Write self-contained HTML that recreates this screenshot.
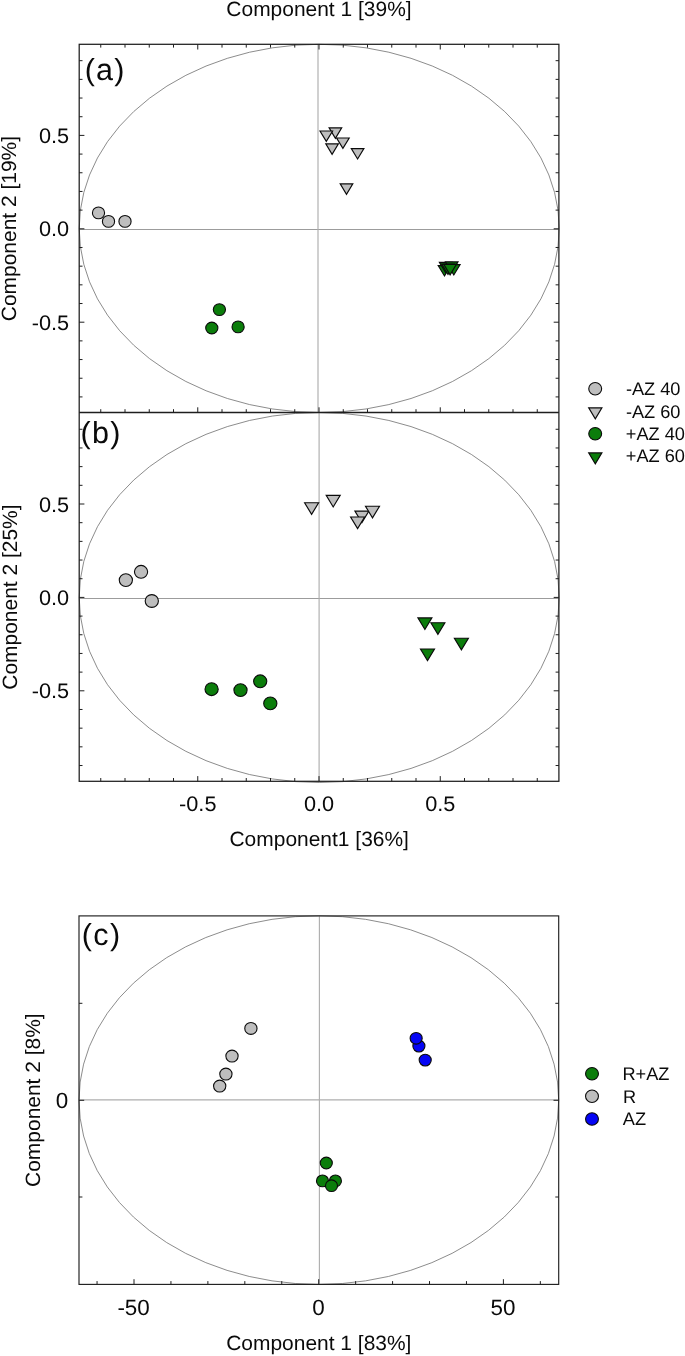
<!DOCTYPE html>
<html lang="en"><head><meta charset="utf-8"><title>PCA score plots</title>
<style>html,body{margin:0;padding:0;background:#fff}svg{display:block;will-change:transform}text{font-family:"Liberation Sans",Arial,Helvetica,sans-serif;fill:#0a0a0a;text-rendering:geometricPrecision}</style></head><body>
<svg width="685" height="1356" viewBox="0 0 685 1356">
<rect width="685" height="1356" fill="#fff"/>
<g id="panel-a">
<ellipse cx="319.2" cy="228.4" rx="240" ry="184.1" fill="none" stroke="#666666" stroke-width="0.75"/>
<line x1="79.20" y1="229.50" x2="558.90" y2="229.50" stroke="#9c9c9c" stroke-width="1.0"/>
<line x1="318.00" y1="44.30" x2="318.00" y2="412.50" stroke="#aeaeae" stroke-width="1.15"/>
</g><g id="panel-b">
<ellipse cx="319.2" cy="597.5" rx="240" ry="185" fill="none" stroke="#666666" stroke-width="0.75"/>
<line x1="79.20" y1="598.50" x2="558.90" y2="598.50" stroke="#9c9c9c" stroke-width="1.0"/>
<line x1="319.10" y1="412.50" x2="319.10" y2="781.30" stroke="#aeaeae" stroke-width="1.15"/>
</g>
<g id="ticks-ab">
<line x1="100.75" y1="44.30" x2="100.75" y2="47.60" stroke="#1e1e1e" stroke-width="1.0"/>
<line x1="125.00" y1="44.30" x2="125.00" y2="47.60" stroke="#1e1e1e" stroke-width="1.0"/>
<line x1="149.25" y1="44.30" x2="149.25" y2="47.60" stroke="#1e1e1e" stroke-width="1.0"/>
<line x1="173.50" y1="44.30" x2="173.50" y2="47.60" stroke="#1e1e1e" stroke-width="1.0"/>
<line x1="197.75" y1="44.30" x2="197.75" y2="49.50" stroke="#1e1e1e" stroke-width="1.0"/>
<line x1="222.00" y1="44.30" x2="222.00" y2="47.60" stroke="#1e1e1e" stroke-width="1.0"/>
<line x1="246.25" y1="44.30" x2="246.25" y2="47.60" stroke="#1e1e1e" stroke-width="1.0"/>
<line x1="270.50" y1="44.30" x2="270.50" y2="47.60" stroke="#1e1e1e" stroke-width="1.0"/>
<line x1="294.75" y1="44.30" x2="294.75" y2="47.60" stroke="#1e1e1e" stroke-width="1.0"/>
<line x1="319.00" y1="44.30" x2="319.00" y2="49.50" stroke="#1e1e1e" stroke-width="1.0"/>
<line x1="343.25" y1="44.30" x2="343.25" y2="47.60" stroke="#1e1e1e" stroke-width="1.0"/>
<line x1="367.50" y1="44.30" x2="367.50" y2="47.60" stroke="#1e1e1e" stroke-width="1.0"/>
<line x1="391.75" y1="44.30" x2="391.75" y2="47.60" stroke="#1e1e1e" stroke-width="1.0"/>
<line x1="416.00" y1="44.30" x2="416.00" y2="47.60" stroke="#1e1e1e" stroke-width="1.0"/>
<line x1="440.25" y1="44.30" x2="440.25" y2="49.50" stroke="#1e1e1e" stroke-width="1.0"/>
<line x1="464.50" y1="44.30" x2="464.50" y2="47.60" stroke="#1e1e1e" stroke-width="1.0"/>
<line x1="488.75" y1="44.30" x2="488.75" y2="47.60" stroke="#1e1e1e" stroke-width="1.0"/>
<line x1="513.00" y1="44.30" x2="513.00" y2="47.60" stroke="#1e1e1e" stroke-width="1.0"/>
<line x1="537.25" y1="44.30" x2="537.25" y2="47.60" stroke="#1e1e1e" stroke-width="1.0"/>
<line x1="100.75" y1="412.50" x2="100.75" y2="409.20" stroke="#1e1e1e" stroke-width="1.0"/>
<line x1="125.00" y1="412.50" x2="125.00" y2="409.20" stroke="#1e1e1e" stroke-width="1.0"/>
<line x1="149.25" y1="412.50" x2="149.25" y2="409.20" stroke="#1e1e1e" stroke-width="1.0"/>
<line x1="173.50" y1="412.50" x2="173.50" y2="409.20" stroke="#1e1e1e" stroke-width="1.0"/>
<line x1="197.75" y1="412.50" x2="197.75" y2="407.30" stroke="#1e1e1e" stroke-width="1.0"/>
<line x1="222.00" y1="412.50" x2="222.00" y2="409.20" stroke="#1e1e1e" stroke-width="1.0"/>
<line x1="246.25" y1="412.50" x2="246.25" y2="409.20" stroke="#1e1e1e" stroke-width="1.0"/>
<line x1="270.50" y1="412.50" x2="270.50" y2="409.20" stroke="#1e1e1e" stroke-width="1.0"/>
<line x1="294.75" y1="412.50" x2="294.75" y2="409.20" stroke="#1e1e1e" stroke-width="1.0"/>
<line x1="319.00" y1="412.50" x2="319.00" y2="407.30" stroke="#1e1e1e" stroke-width="1.0"/>
<line x1="343.25" y1="412.50" x2="343.25" y2="409.20" stroke="#1e1e1e" stroke-width="1.0"/>
<line x1="367.50" y1="412.50" x2="367.50" y2="409.20" stroke="#1e1e1e" stroke-width="1.0"/>
<line x1="391.75" y1="412.50" x2="391.75" y2="409.20" stroke="#1e1e1e" stroke-width="1.0"/>
<line x1="416.00" y1="412.50" x2="416.00" y2="409.20" stroke="#1e1e1e" stroke-width="1.0"/>
<line x1="440.25" y1="412.50" x2="440.25" y2="407.30" stroke="#1e1e1e" stroke-width="1.0"/>
<line x1="464.50" y1="412.50" x2="464.50" y2="409.20" stroke="#1e1e1e" stroke-width="1.0"/>
<line x1="488.75" y1="412.50" x2="488.75" y2="409.20" stroke="#1e1e1e" stroke-width="1.0"/>
<line x1="513.00" y1="412.50" x2="513.00" y2="409.20" stroke="#1e1e1e" stroke-width="1.0"/>
<line x1="537.25" y1="412.50" x2="537.25" y2="409.20" stroke="#1e1e1e" stroke-width="1.0"/>
<line x1="79.20" y1="60.68" x2="82.50" y2="60.68" stroke="#1e1e1e" stroke-width="1.0"/>
<line x1="79.20" y1="79.36" x2="82.50" y2="79.36" stroke="#1e1e1e" stroke-width="1.0"/>
<line x1="79.20" y1="98.04" x2="82.50" y2="98.04" stroke="#1e1e1e" stroke-width="1.0"/>
<line x1="79.20" y1="116.72" x2="82.50" y2="116.72" stroke="#1e1e1e" stroke-width="1.0"/>
<line x1="79.20" y1="135.40" x2="84.40" y2="135.40" stroke="#1e1e1e" stroke-width="1.0"/>
<line x1="79.20" y1="154.08" x2="82.50" y2="154.08" stroke="#1e1e1e" stroke-width="1.0"/>
<line x1="79.20" y1="172.76" x2="82.50" y2="172.76" stroke="#1e1e1e" stroke-width="1.0"/>
<line x1="79.20" y1="191.44" x2="82.50" y2="191.44" stroke="#1e1e1e" stroke-width="1.0"/>
<line x1="79.20" y1="210.12" x2="82.50" y2="210.12" stroke="#1e1e1e" stroke-width="1.0"/>
<line x1="79.20" y1="228.80" x2="84.40" y2="228.80" stroke="#1e1e1e" stroke-width="1.0"/>
<line x1="79.20" y1="247.48" x2="82.50" y2="247.48" stroke="#1e1e1e" stroke-width="1.0"/>
<line x1="79.20" y1="266.16" x2="82.50" y2="266.16" stroke="#1e1e1e" stroke-width="1.0"/>
<line x1="79.20" y1="284.84" x2="82.50" y2="284.84" stroke="#1e1e1e" stroke-width="1.0"/>
<line x1="79.20" y1="303.52" x2="82.50" y2="303.52" stroke="#1e1e1e" stroke-width="1.0"/>
<line x1="79.20" y1="322.20" x2="84.40" y2="322.20" stroke="#1e1e1e" stroke-width="1.0"/>
<line x1="79.20" y1="340.88" x2="82.50" y2="340.88" stroke="#1e1e1e" stroke-width="1.0"/>
<line x1="79.20" y1="359.56" x2="82.50" y2="359.56" stroke="#1e1e1e" stroke-width="1.0"/>
<line x1="79.20" y1="378.24" x2="82.50" y2="378.24" stroke="#1e1e1e" stroke-width="1.0"/>
<line x1="79.20" y1="396.92" x2="82.50" y2="396.92" stroke="#1e1e1e" stroke-width="1.0"/>
<line x1="558.90" y1="60.68" x2="555.60" y2="60.68" stroke="#1e1e1e" stroke-width="1.0"/>
<line x1="558.90" y1="79.36" x2="555.60" y2="79.36" stroke="#1e1e1e" stroke-width="1.0"/>
<line x1="558.90" y1="98.04" x2="555.60" y2="98.04" stroke="#1e1e1e" stroke-width="1.0"/>
<line x1="558.90" y1="116.72" x2="555.60" y2="116.72" stroke="#1e1e1e" stroke-width="1.0"/>
<line x1="558.90" y1="135.40" x2="553.70" y2="135.40" stroke="#1e1e1e" stroke-width="1.0"/>
<line x1="558.90" y1="154.08" x2="555.60" y2="154.08" stroke="#1e1e1e" stroke-width="1.0"/>
<line x1="558.90" y1="172.76" x2="555.60" y2="172.76" stroke="#1e1e1e" stroke-width="1.0"/>
<line x1="558.90" y1="191.44" x2="555.60" y2="191.44" stroke="#1e1e1e" stroke-width="1.0"/>
<line x1="558.90" y1="210.12" x2="555.60" y2="210.12" stroke="#1e1e1e" stroke-width="1.0"/>
<line x1="558.90" y1="228.80" x2="553.70" y2="228.80" stroke="#1e1e1e" stroke-width="1.0"/>
<line x1="558.90" y1="247.48" x2="555.60" y2="247.48" stroke="#1e1e1e" stroke-width="1.0"/>
<line x1="558.90" y1="266.16" x2="555.60" y2="266.16" stroke="#1e1e1e" stroke-width="1.0"/>
<line x1="558.90" y1="284.84" x2="555.60" y2="284.84" stroke="#1e1e1e" stroke-width="1.0"/>
<line x1="558.90" y1="303.52" x2="555.60" y2="303.52" stroke="#1e1e1e" stroke-width="1.0"/>
<line x1="558.90" y1="322.20" x2="553.70" y2="322.20" stroke="#1e1e1e" stroke-width="1.0"/>
<line x1="558.90" y1="340.88" x2="555.60" y2="340.88" stroke="#1e1e1e" stroke-width="1.0"/>
<line x1="558.90" y1="359.56" x2="555.60" y2="359.56" stroke="#1e1e1e" stroke-width="1.0"/>
<line x1="558.90" y1="378.24" x2="555.60" y2="378.24" stroke="#1e1e1e" stroke-width="1.0"/>
<line x1="558.90" y1="396.92" x2="555.60" y2="396.92" stroke="#1e1e1e" stroke-width="1.0"/>
<line x1="100.75" y1="781.30" x2="100.75" y2="778.00" stroke="#1e1e1e" stroke-width="1.0"/>
<line x1="125.00" y1="781.30" x2="125.00" y2="778.00" stroke="#1e1e1e" stroke-width="1.0"/>
<line x1="149.25" y1="781.30" x2="149.25" y2="778.00" stroke="#1e1e1e" stroke-width="1.0"/>
<line x1="173.50" y1="781.30" x2="173.50" y2="778.00" stroke="#1e1e1e" stroke-width="1.0"/>
<line x1="197.75" y1="781.30" x2="197.75" y2="776.10" stroke="#1e1e1e" stroke-width="1.0"/>
<line x1="222.00" y1="781.30" x2="222.00" y2="778.00" stroke="#1e1e1e" stroke-width="1.0"/>
<line x1="246.25" y1="781.30" x2="246.25" y2="778.00" stroke="#1e1e1e" stroke-width="1.0"/>
<line x1="270.50" y1="781.30" x2="270.50" y2="778.00" stroke="#1e1e1e" stroke-width="1.0"/>
<line x1="294.75" y1="781.30" x2="294.75" y2="778.00" stroke="#1e1e1e" stroke-width="1.0"/>
<line x1="319.00" y1="781.30" x2="319.00" y2="776.10" stroke="#1e1e1e" stroke-width="1.0"/>
<line x1="343.25" y1="781.30" x2="343.25" y2="778.00" stroke="#1e1e1e" stroke-width="1.0"/>
<line x1="367.50" y1="781.30" x2="367.50" y2="778.00" stroke="#1e1e1e" stroke-width="1.0"/>
<line x1="391.75" y1="781.30" x2="391.75" y2="778.00" stroke="#1e1e1e" stroke-width="1.0"/>
<line x1="416.00" y1="781.30" x2="416.00" y2="778.00" stroke="#1e1e1e" stroke-width="1.0"/>
<line x1="440.25" y1="781.30" x2="440.25" y2="776.10" stroke="#1e1e1e" stroke-width="1.0"/>
<line x1="464.50" y1="781.30" x2="464.50" y2="778.00" stroke="#1e1e1e" stroke-width="1.0"/>
<line x1="488.75" y1="781.30" x2="488.75" y2="778.00" stroke="#1e1e1e" stroke-width="1.0"/>
<line x1="513.00" y1="781.30" x2="513.00" y2="778.00" stroke="#1e1e1e" stroke-width="1.0"/>
<line x1="537.25" y1="781.30" x2="537.25" y2="778.00" stroke="#1e1e1e" stroke-width="1.0"/>
<line x1="79.20" y1="429.28" x2="82.50" y2="429.28" stroke="#1e1e1e" stroke-width="1.0"/>
<line x1="79.20" y1="447.96" x2="82.50" y2="447.96" stroke="#1e1e1e" stroke-width="1.0"/>
<line x1="79.20" y1="466.64" x2="82.50" y2="466.64" stroke="#1e1e1e" stroke-width="1.0"/>
<line x1="79.20" y1="485.32" x2="82.50" y2="485.32" stroke="#1e1e1e" stroke-width="1.0"/>
<line x1="79.20" y1="504.00" x2="84.40" y2="504.00" stroke="#1e1e1e" stroke-width="1.0"/>
<line x1="79.20" y1="522.68" x2="82.50" y2="522.68" stroke="#1e1e1e" stroke-width="1.0"/>
<line x1="79.20" y1="541.36" x2="82.50" y2="541.36" stroke="#1e1e1e" stroke-width="1.0"/>
<line x1="79.20" y1="560.04" x2="82.50" y2="560.04" stroke="#1e1e1e" stroke-width="1.0"/>
<line x1="79.20" y1="578.72" x2="82.50" y2="578.72" stroke="#1e1e1e" stroke-width="1.0"/>
<line x1="79.20" y1="597.40" x2="84.40" y2="597.40" stroke="#1e1e1e" stroke-width="1.0"/>
<line x1="79.20" y1="616.08" x2="82.50" y2="616.08" stroke="#1e1e1e" stroke-width="1.0"/>
<line x1="79.20" y1="634.76" x2="82.50" y2="634.76" stroke="#1e1e1e" stroke-width="1.0"/>
<line x1="79.20" y1="653.44" x2="82.50" y2="653.44" stroke="#1e1e1e" stroke-width="1.0"/>
<line x1="79.20" y1="672.12" x2="82.50" y2="672.12" stroke="#1e1e1e" stroke-width="1.0"/>
<line x1="79.20" y1="690.80" x2="84.40" y2="690.80" stroke="#1e1e1e" stroke-width="1.0"/>
<line x1="79.20" y1="709.48" x2="82.50" y2="709.48" stroke="#1e1e1e" stroke-width="1.0"/>
<line x1="79.20" y1="728.16" x2="82.50" y2="728.16" stroke="#1e1e1e" stroke-width="1.0"/>
<line x1="79.20" y1="746.84" x2="82.50" y2="746.84" stroke="#1e1e1e" stroke-width="1.0"/>
<line x1="79.20" y1="765.52" x2="82.50" y2="765.52" stroke="#1e1e1e" stroke-width="1.0"/>
<line x1="558.90" y1="429.28" x2="555.60" y2="429.28" stroke="#1e1e1e" stroke-width="1.0"/>
<line x1="558.90" y1="447.96" x2="555.60" y2="447.96" stroke="#1e1e1e" stroke-width="1.0"/>
<line x1="558.90" y1="466.64" x2="555.60" y2="466.64" stroke="#1e1e1e" stroke-width="1.0"/>
<line x1="558.90" y1="485.32" x2="555.60" y2="485.32" stroke="#1e1e1e" stroke-width="1.0"/>
<line x1="558.90" y1="504.00" x2="553.70" y2="504.00" stroke="#1e1e1e" stroke-width="1.0"/>
<line x1="558.90" y1="522.68" x2="555.60" y2="522.68" stroke="#1e1e1e" stroke-width="1.0"/>
<line x1="558.90" y1="541.36" x2="555.60" y2="541.36" stroke="#1e1e1e" stroke-width="1.0"/>
<line x1="558.90" y1="560.04" x2="555.60" y2="560.04" stroke="#1e1e1e" stroke-width="1.0"/>
<line x1="558.90" y1="578.72" x2="555.60" y2="578.72" stroke="#1e1e1e" stroke-width="1.0"/>
<line x1="558.90" y1="597.40" x2="553.70" y2="597.40" stroke="#1e1e1e" stroke-width="1.0"/>
<line x1="558.90" y1="616.08" x2="555.60" y2="616.08" stroke="#1e1e1e" stroke-width="1.0"/>
<line x1="558.90" y1="634.76" x2="555.60" y2="634.76" stroke="#1e1e1e" stroke-width="1.0"/>
<line x1="558.90" y1="653.44" x2="555.60" y2="653.44" stroke="#1e1e1e" stroke-width="1.0"/>
<line x1="558.90" y1="672.12" x2="555.60" y2="672.12" stroke="#1e1e1e" stroke-width="1.0"/>
<line x1="558.90" y1="690.80" x2="553.70" y2="690.80" stroke="#1e1e1e" stroke-width="1.0"/>
<line x1="558.90" y1="709.48" x2="555.60" y2="709.48" stroke="#1e1e1e" stroke-width="1.0"/>
<line x1="558.90" y1="728.16" x2="555.60" y2="728.16" stroke="#1e1e1e" stroke-width="1.0"/>
<line x1="558.90" y1="746.84" x2="555.60" y2="746.84" stroke="#1e1e1e" stroke-width="1.0"/>
<line x1="558.90" y1="765.52" x2="555.60" y2="765.52" stroke="#1e1e1e" stroke-width="1.0"/>
</g>
<rect x="79.2" y="44.3" width="479.7" height="737.0" fill="none" stroke="#1e1e1e" stroke-width="1.25"/>
<line x1="79.20" y1="412.50" x2="558.90" y2="412.50" stroke="#1e1e1e" stroke-width="1.5"/>
<g id="pts-a">
<ellipse cx="98.50" cy="212.90" rx="6.09" ry="5.91" fill="#bebebe" stroke="#0a0a0a" stroke-width="1.1"/>
<ellipse cx="108.50" cy="221.40" rx="6.09" ry="5.91" fill="#bebebe" stroke="#0a0a0a" stroke-width="1.1"/>
<ellipse cx="125.00" cy="221.40" rx="6.09" ry="5.91" fill="#bebebe" stroke="#0a0a0a" stroke-width="1.1"/>
<ellipse cx="219.40" cy="309.60" rx="6.09" ry="5.91" fill="#0b7d0b" stroke="#0a0a0a" stroke-width="1.1"/>
<ellipse cx="211.80" cy="328.00" rx="6.09" ry="5.91" fill="#0b7d0b" stroke="#0a0a0a" stroke-width="1.1"/>
<ellipse cx="238.10" cy="326.90" rx="6.09" ry="5.91" fill="#0b7d0b" stroke="#0a0a0a" stroke-width="1.1"/>
<polygon points="329.10,127.88 341.70,127.88 335.40,138.30" fill="#bebebe" stroke="#0a0a0a" stroke-width="1.15" stroke-linejoin="miter"/>
<polygon points="320.00,130.97 332.60,130.97 326.30,141.40" fill="#bebebe" stroke="#0a0a0a" stroke-width="1.15" stroke-linejoin="miter"/>
<polygon points="325.80,143.88 338.40,143.88 332.10,154.30" fill="#bebebe" stroke="#0a0a0a" stroke-width="1.15" stroke-linejoin="miter"/>
<polygon points="336.60,137.97 349.20,137.97 342.90,148.40" fill="#bebebe" stroke="#0a0a0a" stroke-width="1.15" stroke-linejoin="miter"/>
<polygon points="351.30,148.57 363.90,148.57 357.60,159.00" fill="#bebebe" stroke="#0a0a0a" stroke-width="1.15" stroke-linejoin="miter"/>
<polygon points="340.20,183.88 352.80,183.88 346.50,194.30" fill="#bebebe" stroke="#0a0a0a" stroke-width="1.15" stroke-linejoin="miter"/>
<polygon points="438.20,265.57 450.80,265.57 444.50,276.00" fill="#0b7d0b" stroke="#0a0a0a" stroke-width="1.15" stroke-linejoin="miter"/>
<polygon points="439.40,262.38 452.00,262.38 445.70,272.80" fill="#0b7d0b" stroke="#0a0a0a" stroke-width="1.15" stroke-linejoin="miter"/>
<polygon points="445.40,261.88 458.00,261.88 451.70,272.30" fill="#0b7d0b" stroke="#0a0a0a" stroke-width="1.15" stroke-linejoin="miter"/>
<polygon points="447.50,264.57 460.10,264.57 453.80,275.00" fill="#0b7d0b" stroke="#0a0a0a" stroke-width="1.15" stroke-linejoin="miter"/>
<polygon points="441.70,264.07 454.30,264.07 448.00,274.50" fill="#0b7d0b" stroke="#0a0a0a" stroke-width="1.15" stroke-linejoin="miter"/>
<polygon points="443.80,264.38 456.40,264.38 450.10,274.80" fill="#0b7d0b" stroke="#0a0a0a" stroke-width="1.15" stroke-linejoin="miter"/>
</g><g id="pts-b">
<ellipse cx="125.85" cy="580.10" rx="6.60" ry="6.40" fill="#bebebe" stroke="#0a0a0a" stroke-width="1.1"/>
<ellipse cx="141.05" cy="571.80" rx="6.60" ry="6.40" fill="#bebebe" stroke="#0a0a0a" stroke-width="1.1"/>
<ellipse cx="151.80" cy="601.00" rx="6.60" ry="6.40" fill="#bebebe" stroke="#0a0a0a" stroke-width="1.1"/>
<ellipse cx="211.60" cy="689.20" rx="6.60" ry="6.40" fill="#0b7d0b" stroke="#0a0a0a" stroke-width="1.1"/>
<ellipse cx="240.50" cy="690.10" rx="6.60" ry="6.40" fill="#0b7d0b" stroke="#0a0a0a" stroke-width="1.1"/>
<ellipse cx="260.20" cy="681.30" rx="6.60" ry="6.40" fill="#0b7d0b" stroke="#0a0a0a" stroke-width="1.1"/>
<ellipse cx="270.30" cy="703.40" rx="6.60" ry="6.40" fill="#0b7d0b" stroke="#0a0a0a" stroke-width="1.1"/>
<polygon points="304.60,502.77 318.60,502.77 311.60,514.35" fill="#bebebe" stroke="#0a0a0a" stroke-width="1.15" stroke-linejoin="miter"/>
<polygon points="326.20,495.38 340.20,495.38 333.20,506.95" fill="#bebebe" stroke="#0a0a0a" stroke-width="1.15" stroke-linejoin="miter"/>
<polygon points="354.90,511.07 368.90,511.07 361.90,522.65" fill="#bebebe" stroke="#0a0a0a" stroke-width="1.15" stroke-linejoin="miter"/>
<polygon points="350.60,516.98 364.60,516.98 357.60,528.55" fill="#bebebe" stroke="#0a0a0a" stroke-width="1.15" stroke-linejoin="miter"/>
<polygon points="365.50,506.27 379.50,506.27 372.50,517.85" fill="#bebebe" stroke="#0a0a0a" stroke-width="1.15" stroke-linejoin="miter"/>
<polygon points="417.90,617.88 431.90,617.88 424.90,629.45" fill="#0b7d0b" stroke="#0a0a0a" stroke-width="1.15" stroke-linejoin="miter"/>
<polygon points="430.90,622.78 444.90,622.78 437.90,634.35" fill="#0b7d0b" stroke="#0a0a0a" stroke-width="1.15" stroke-linejoin="miter"/>
<polygon points="454.40,638.28 468.40,638.28 461.40,649.85" fill="#0b7d0b" stroke="#0a0a0a" stroke-width="1.15" stroke-linejoin="miter"/>
<polygon points="420.50,648.98 434.50,648.98 427.50,660.55" fill="#0b7d0b" stroke="#0a0a0a" stroke-width="1.15" stroke-linejoin="miter"/>
</g>
<g id="labels-ab">
</g>
<g id="legend-ab">
<ellipse cx="595.20" cy="388.80" rx="6.45" ry="6.25" fill="#bebebe" stroke="#0a0a0a" stroke-width="1.1"/>
<polygon points="588.70,407.88 601.90,407.88 595.30,418.79" fill="#bebebe" stroke="#0a0a0a" stroke-width="1.15" stroke-linejoin="miter"/>
<ellipse cx="595.20" cy="433.80" rx="6.45" ry="6.25" fill="#0b7d0b" stroke="#0a0a0a" stroke-width="1.1"/>
<polygon points="588.70,452.88 601.90,452.88 595.30,463.79" fill="#0b7d0b" stroke="#0a0a0a" stroke-width="1.15" stroke-linejoin="miter"/>
</g>
<g id="panel-c">
<ellipse cx="318.85" cy="1100.1" rx="239.85" ry="184.3" fill="none" stroke="#666666" stroke-width="0.75"/>
<line x1="79.00" y1="1099.90" x2="558.70" y2="1099.90" stroke="#aeaeae" stroke-width="1.15"/>
<line x1="319.40" y1="915.90" x2="319.40" y2="1284.40" stroke="#aeaeae" stroke-width="1.15"/>
<line x1="97.06" y1="1284.40" x2="97.06" y2="1281.10" stroke="#1e1e1e" stroke-width="1.0"/>
<line x1="134.00" y1="1284.40" x2="134.00" y2="1279.20" stroke="#1e1e1e" stroke-width="1.0"/>
<line x1="170.94" y1="1284.40" x2="170.94" y2="1281.10" stroke="#1e1e1e" stroke-width="1.0"/>
<line x1="207.88" y1="1284.40" x2="207.88" y2="1281.10" stroke="#1e1e1e" stroke-width="1.0"/>
<line x1="244.82" y1="1284.40" x2="244.82" y2="1281.10" stroke="#1e1e1e" stroke-width="1.0"/>
<line x1="281.76" y1="1284.40" x2="281.76" y2="1281.10" stroke="#1e1e1e" stroke-width="1.0"/>
<line x1="318.70" y1="1284.40" x2="318.70" y2="1279.20" stroke="#1e1e1e" stroke-width="1.0"/>
<line x1="355.64" y1="1284.40" x2="355.64" y2="1281.10" stroke="#1e1e1e" stroke-width="1.0"/>
<line x1="392.58" y1="1284.40" x2="392.58" y2="1281.10" stroke="#1e1e1e" stroke-width="1.0"/>
<line x1="429.52" y1="1284.40" x2="429.52" y2="1281.10" stroke="#1e1e1e" stroke-width="1.0"/>
<line x1="466.46" y1="1284.40" x2="466.46" y2="1281.10" stroke="#1e1e1e" stroke-width="1.0"/>
<line x1="503.40" y1="1284.40" x2="503.40" y2="1279.20" stroke="#1e1e1e" stroke-width="1.0"/>
<line x1="540.34" y1="1284.40" x2="540.34" y2="1281.10" stroke="#1e1e1e" stroke-width="1.0"/>
<line x1="79.00" y1="1003.30" x2="82.40" y2="1003.30" stroke="#1e1e1e" stroke-width="1.0"/>
<line x1="558.70" y1="1003.30" x2="555.30" y2="1003.30" stroke="#1e1e1e" stroke-width="1.0"/>
<line x1="79.00" y1="1100.30" x2="84.20" y2="1100.30" stroke="#1e1e1e" stroke-width="1.0"/>
<line x1="558.70" y1="1100.30" x2="553.50" y2="1100.30" stroke="#1e1e1e" stroke-width="1.0"/>
<line x1="79.00" y1="1197.00" x2="82.40" y2="1197.00" stroke="#1e1e1e" stroke-width="1.0"/>
<line x1="558.70" y1="1197.00" x2="555.30" y2="1197.00" stroke="#1e1e1e" stroke-width="1.0"/>
<rect x="79.0" y="915.9" width="479.70000000000005" height="368.5000000000001" fill="none" stroke="#1e1e1e" stroke-width="1.15"/>
<ellipse cx="250.90" cy="1028.40" rx="6.14" ry="5.96" fill="#bebebe" stroke="#0a0a0a" stroke-width="1.1"/>
<ellipse cx="232.00" cy="1056.10" rx="6.14" ry="5.96" fill="#bebebe" stroke="#0a0a0a" stroke-width="1.1"/>
<ellipse cx="219.70" cy="1086.10" rx="6.14" ry="5.96" fill="#bebebe" stroke="#0a0a0a" stroke-width="1.1"/>
<ellipse cx="225.90" cy="1074.10" rx="6.14" ry="5.96" fill="#bebebe" stroke="#0a0a0a" stroke-width="1.1"/>
<ellipse cx="326.30" cy="1163.00" rx="6.04" ry="5.86" fill="#0b7d0b" stroke="#0a0a0a" stroke-width="1.1"/>
<ellipse cx="335.40" cy="1180.90" rx="6.04" ry="5.86" fill="#0b7d0b" stroke="#0a0a0a" stroke-width="1.1"/>
<ellipse cx="322.50" cy="1180.90" rx="6.04" ry="5.86" fill="#0b7d0b" stroke="#0a0a0a" stroke-width="1.1"/>
<ellipse cx="331.50" cy="1185.70" rx="6.04" ry="5.86" fill="#0b7d0b" stroke="#0a0a0a" stroke-width="1.1"/>
<ellipse cx="418.90" cy="1046.10" rx="6.04" ry="5.86" fill="#0505f5" stroke="#0a0a0a" stroke-width="1.1"/>
<ellipse cx="416.15" cy="1038.30" rx="6.04" ry="5.86" fill="#0505f5" stroke="#0a0a0a" stroke-width="1.1"/>
<ellipse cx="425.20" cy="1060.10" rx="6.04" ry="5.86" fill="#0505f5" stroke="#0a0a0a" stroke-width="1.1"/>
<ellipse cx="592.00" cy="1073.80" rx="6.45" ry="6.25" fill="#0b7d0b" stroke="#0a0a0a" stroke-width="1.1"/>
<ellipse cx="592.00" cy="1096.30" rx="6.45" ry="6.25" fill="#bebebe" stroke="#0a0a0a" stroke-width="1.1"/>
<ellipse cx="592.00" cy="1119.00" rx="6.45" ry="6.25" fill="#0505f5" stroke="#0a0a0a" stroke-width="1.1"/>
</g>
<g id="text">
<text transform="translate(226.35,15.6) scale(1.013,1)" font-size="20.7">Component 1 [39%]</text>
<text transform="translate(229.49,845.6) scale(1.013,1)" font-size="20.7">Component1 [36%]</text>
<text transform="translate(226.2,1349.85) scale(1.013,1)" font-size="20.7">Component 1 [83%]</text>
<text transform="translate(16.3,321.2) rotate(-90) scale(1.013,1)" font-size="20.7">Component 2 [19%]</text>
<text transform="translate(16.9,689.7) rotate(-90) scale(1.013,1)" font-size="20.7">Component 2 [25%]</text>
<text transform="translate(39.9,1186.93) rotate(-90) scale(1.013,1)" font-size="20.7">Component 2 [8%]</text>
<text x="84.75" y="80.3" font-size="30.5" letter-spacing="1.2">(a)</text>
<text x="80.4" y="443.0" font-size="30.5" letter-spacing="1.37">(b)</text>
<text x="81.8" y="944.5" font-size="30.5" letter-spacing="1.41">(c)</text>
<text transform="translate(38.99,142.95) scale(1.033,1)" font-size="21">0.5</text>
<text transform="translate(38.94,236.35) scale(1.033,1)" font-size="21">0.0</text>
<text transform="translate(31.77,329.75) scale(1.033,1)" font-size="21">-0.5</text>
<text transform="translate(38.99,511.55) scale(1.033,1)" font-size="21">0.5</text>
<text transform="translate(38.94,604.95) scale(1.033,1)" font-size="21">0.0</text>
<text transform="translate(31.77,698.35) scale(1.033,1)" font-size="21">-0.5</text>
<text transform="translate(179.07,810.9) scale(1.033,1)" font-size="21">-0.5</text>
<text transform="translate(303.94,810.9) scale(1.033,1)" font-size="21">0.0</text>
<text transform="translate(425.19,810.9) scale(1.033,1)" font-size="21">0.5</text>
<text transform="translate(117.39,1315.0) scale(1.02,1)" font-size="22">-50</text>
<text transform="translate(312.29,1315.0) scale(1.02,1)" font-size="22">0</text>
<text transform="translate(490.57,1315.0) scale(1.02,1)" font-size="22">50</text>
<text transform="translate(55.74,1107.8) scale(1.02,1)" font-size="22">0</text>
<text x="625.9" y="395.1" font-size="18.2">-AZ 40</text>
<text x="625.9" y="417.5" font-size="18.2">-AZ 60</text>
<text x="625.8" y="439.7" font-size="18.2">+AZ 40</text>
<text x="625.8" y="462.3" font-size="18.2">+AZ 60</text>
<text x="622.38" y="1080.3" font-size="18.2">R+AZ</text>
<text x="622.94" y="1102.6" font-size="18.2">R</text>
<text x="622.78" y="1124.8" font-size="18.2">AZ</text>
</g>
</svg></body></html>
